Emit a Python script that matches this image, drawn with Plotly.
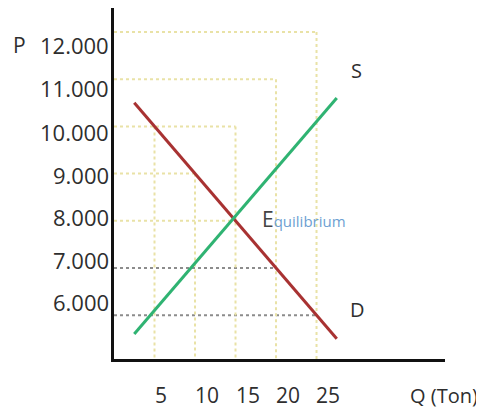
import plotly.graph_objects as go

# ---- data ----
price_ticks = [12000, 11000, 10000, 9000, 8000, 7000, 6000]
price_labels = ["12.000", "11.000", "10.000", "9.000", "8.000", "7.000", "6.000"]
qty_ticks = [5, 10, 15, 20, 25]
qty_labels = ["5", "10", "15", "20", "25"]

demand_q = [2.5, 27.5]
demand_p = [10500, 5500]
supply_q = [2.5, 27.5]
supply_p = [5600, 10600]

# horizontal guides: price level -> quantity where the guide stops
hguide_p = [12000, 11000, 10000, 9000, 8000, 7000, 6000]
hguide_q = [25, 20, 15, 10, 15, 20, 25]
# vertical guides: quantity -> price where the guide starts
vguide_q = [5, 10, 15, 20, 25]
vguide_p = [10000, 9000, 10000, 11000, 12000]

equilibrium_q, equilibrium_p = 15, 8000

# ---- styling ----
X_RANGE = [0, 40.86]
Y_RANGE = [5072, 12508]
YELLOW = "#e9e2a6"
GRAY = "#8c8c8c"
hguide_colors = [YELLOW, YELLOW, YELLOW, YELLOW, YELLOW, GRAY, GRAY]
ylabel_shift = [-13, -9, -6, -1, 4, 8, 13]
xlabel_shift = [6, 12, 12.5, 12, 11.5]
FONT = "Open Sans"
TXT = "#2e2e2e"

fig = go.Figure()

for p, q, c in zip(hguide_p, hguide_q, hguide_colors):
    fig.add_trace(go.Scatter(x=[0, q], y=[p, p], mode="lines",
                             line=dict(color=c, width=2, dash="dot"),
                             hoverinfo="skip", showlegend=False))
for q, p in zip(vguide_q, vguide_p):
    fig.add_trace(go.Scatter(x=[q, q], y=[p, Y_RANGE[0]], mode="lines",
                             line=dict(color=YELLOW, width=2, dash="dot"),
                             hoverinfo="skip", showlegend=False))

fig.add_trace(go.Scatter(x=demand_q, y=demand_p, mode="lines",
                         line=dict(color="#a83232", width=3),
                         name="D", showlegend=False))
fig.add_trace(go.Scatter(x=supply_q, y=supply_p, mode="lines",
                         line=dict(color="#2fb372", width=3),
                         name="S", showlegend=False))

ann = []
for p, lab, s in zip(price_ticks, price_labels, ylabel_shift):
    ann.append(dict(x=0, y=p, text=lab, showarrow=False, xanchor="right",
                    yanchor="middle", xshift=-3, yshift=s,
                    font=dict(family=FONT, size=22, color=TXT)))
for q, lab, s in zip(qty_ticks, qty_labels, xlabel_shift):
    ann.append(dict(x=q, y=0, yref="paper", text=lab, showarrow=False,
                    xanchor="center", yanchor="middle", xshift=s, yshift=-36,
                    font=dict(family=FONT, size=21, color=TXT)))
ann.append(dict(x=0, y=price_ticks[0], text="P", showarrow=False,
                xanchor="center", yanchor="middle", xshift=-95, yshift=-13,
                font=dict(family=FONT, size=21, color=TXT)))
ann.append(dict(x=1, xref="paper", y=0, yref="paper", text="Q (Ton)",
                showarrow=False, xanchor="center", yanchor="middle",
                xshift=-1, yshift=-36, font=dict(family=FONT, size=20, color=TXT)))
ann.append(dict(x=supply_q[-1], y=supply_p[-1], text="S", showarrow=False,
                xanchor="center", yanchor="middle", xshift=20, yshift=28,
                font=dict(family=FONT, size=20, color=TXT)))
ann.append(dict(x=demand_q[-1], y=demand_p[-1], text="D", showarrow=False,
                xanchor="center", yanchor="middle", xshift=21, yshift=29,
                font=dict(family=FONT, size=20, color=TXT)))
ann.append(dict(x=equilibrium_q, y=equilibrium_p,
                text="E<span style='font-size:15px;color:#6d9fd2'>quilibrium</span>",
                showarrow=False, xanchor="left", yanchor="middle",
                xshift=24, yshift=2,
                font=dict(family=FONT, size=21, color="#444444")))

# the page places the figure 8px in from the top-left corner
fig.update_layout(
    width=476, height=402,
    margin=dict(l=106, r=39, t=0, b=51),
    paper_bgcolor="white", plot_bgcolor="white",
    annotations=ann,
    xaxis=dict(range=X_RANGE, showgrid=False, zeroline=False,
               showticklabels=False, ticks="", showline=True,
               linecolor="#111111", linewidth=3),
    yaxis=dict(range=Y_RANGE, showgrid=False, zeroline=False,
               showticklabels=False, ticks="", showline=True,
               linecolor="#111111", linewidth=3),
)

fig.write_html("out.html")
